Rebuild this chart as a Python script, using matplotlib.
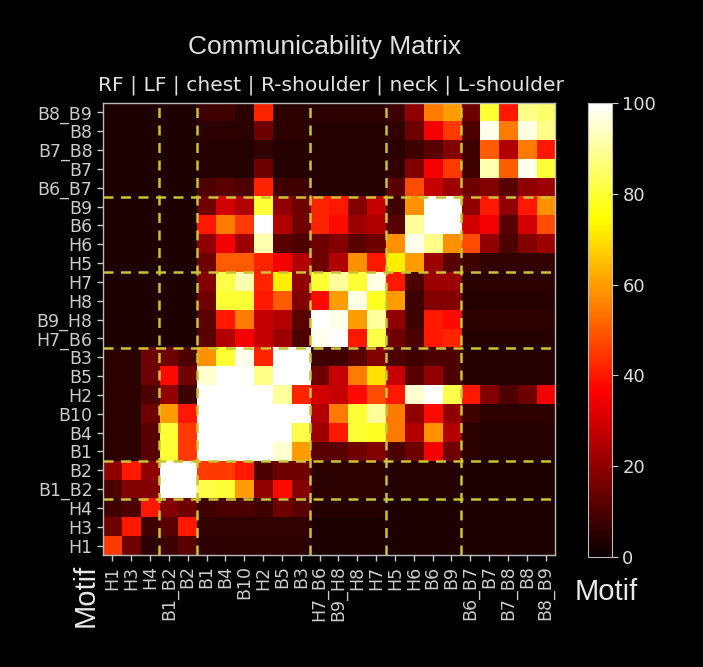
import matplotlib
matplotlib.use("Agg")
import matplotlib.pyplot as plt
import numpy as np

motifs = ["H1", "H3", "H4", "B1_B2", "B2", "B1", "B4", "B10", "H2", "B5", "B3",
          "H7_B6", "B9_H8", "H8", "H7", "H5", "H6", "B6", "B9",
          "B6_B7", "B7", "B7_B8", "B8", "B8_B9"]
group_sizes = [3, 2, 6, 4, 4, 5]
group_names = ["RF", "LF", "chest", "R-shoulder", "neck", "L-shoulder"]

# rows listed from bottom (H1) to top (B8_B9); columns in motifs order
communicability = [
    [45, 15, 5, 8, 12, 5, 5, 5, 5, 5, 5, 3, 3, 3, 3, 3, 3, 3, 3, 3, 3, 3, 3, 3],
    [15, 40, 8, 12, 40, 6, 6, 6, 6, 6, 6, 3, 3, 3, 3, 3, 3, 3, 3, 3, 3, 3, 3, 3],
    [8, 10, 40, 18, 15, 8, 10, 10, 8, 15, 12, 4, 4, 4, 4, 3, 3, 3, 3, 3, 3, 3, 3, 3],
    [10, 18, 18, 100, 100, 82, 80, 60, 20, 38, 18, 5, 5, 5, 5, 4, 4, 4, 4, 3, 3, 3, 3, 3],
    [20, 40, 20, 100, 100, 45, 45, 40, 10, 15, 15, 5, 5, 5, 5, 4, 4, 4, 4, 3, 3, 3, 3, 3],
    [5, 5, 12, 80, 45, 100, 100, 100, 100, 95, 60, 12, 12, 15, 18, 10, 15, 35, 15, 5, 4, 4, 4, 4],
    [5, 5, 12, 80, 45, 100, 100, 100, 100, 100, 82, 22, 40, 80, 78, 55, 25, 58, 25, 5, 4, 4, 4, 4],
    [5, 5, 15, 60, 40, 100, 100, 100, 100, 100, 100, 25, 55, 80, 90, 55, 20, 38, 20, 8, 5, 5, 5, 5],
    [5, 5, 10, 20, 8, 100, 100, 100, 100, 90, 42, 30, 28, 38, 48, 40, 95, 100, 82, 40, 18, 10, 15, 35],
    [5, 5, 15, 38, 15, 95, 100, 100, 88, 100, 100, 15, 28, 55, 70, 28, 12, 20, 10, 4, 4, 4, 4, 4],
    [5, 5, 15, 15, 10, 58, 80, 98, 42, 100, 100, 8, 8, 12, 18, 10, 8, 10, 10, 4, 4, 4, 4, 4],
    [3, 3, 3, 3, 3, 12, 25, 35, 28, 22, 10, 98, 100, 40, 82, 15, 10, 40, 42, 4, 4, 4, 4, 4],
    [3, 3, 3, 3, 3, 12, 40, 55, 28, 25, 12, 100, 98, 60, 90, 20, 8, 40, 38, 5, 5, 5, 5, 5],
    [3, 3, 3, 3, 3, 15, 80, 80, 40, 50, 18, 38, 60, 97, 78, 60, 8, 18, 18, 4, 4, 4, 4, 4],
    [3, 3, 3, 3, 3, 18, 82, 92, 42, 72, 20, 80, 90, 80, 97, 40, 10, 22, 22, 5, 5, 5, 5, 5],
    [3, 3, 3, 3, 3, 15, 50, 50, 42, 35, 25, 15, 25, 58, 40, 72, 60, 22, 12, 8, 6, 6, 6, 6],
    [3, 3, 3, 3, 3, 20, 35, 22, 92, 12, 10, 15, 18, 12, 15, 58, 98, 88, 58, 48, 20, 10, 18, 22],
    [3, 3, 3, 3, 3, 40, 55, 45, 100, 25, 15, 42, 38, 22, 25, 12, 90, 100, 100, 30, 35, 12, 30, 48],
    [3, 3, 3, 3, 3, 15, 30, 25, 80, 20, 15, 42, 40, 18, 28, 8, 58, 100, 100, 20, 40, 20, 40, 58],
    [3, 3, 3, 3, 3, 10, 12, 10, 42, 8, 8, 4, 4, 4, 4, 12, 48, 28, 22, 15, 18, 12, 20, 22],
    [3, 3, 3, 3, 3, 4, 4, 4, 15, 4, 4, 4, 4, 4, 4, 6, 18, 35, 45, 8, 92, 50, 98, 80],
    [3, 3, 3, 3, 3, 4, 4, 4, 6, 4, 4, 4, 4, 4, 4, 5, 8, 12, 18, 8, 50, 25, 55, 40],
    [3, 3, 3, 3, 3, 5, 5, 5, 15, 5, 5, 4, 4, 4, 4, 6, 15, 35, 45, 10, 98, 55, 97, 88],
    [3, 3, 3, 3, 3, 8, 8, 5, 42, 5, 5, 5, 5, 5, 5, 8, 20, 55, 60, 15, 80, 40, 88, 85],
]

data = np.array(communicability, dtype=float)
n = len(motifs)

fig = plt.figure(figsize=(7.03, 6.67), dpi=100, facecolor="black")
ax = fig.add_axes([0.1465, 0.1679, 0.643, 0.6777])
cax = fig.add_axes([0.8364, 0.165, 0.034, 0.6807])

im = ax.imshow(data, cmap="hot", vmin=0, vmax=100, origin="lower",
               interpolation="nearest", aspect="auto")

bounds = np.cumsum(group_sizes)[:-1]
for b in bounds:
    ax.axvline(b - 0.5, color="#c8c432", linestyle=(0, (4, 3)), linewidth=1.8)
    ax.axhline(b - 0.5, color="#c8c432", linestyle=(0, (4, 3)), linewidth=1.8)

ax.set_xticks(range(n))
ax.set_xticklabels(motifs, rotation=90, fontsize=12.5, color="#dddddd")
ax.set_yticks(range(n))
ax.set_yticklabels(motifs, fontsize=12.5, color="#dddddd")
ax.tick_params(colors="#cccccc", length=4, width=1)
for s in ax.spines.values():
    s.set_color("#bbbbbb")
    s.set_linewidth(1)

cb = fig.colorbar(im, cax=cax)
cb.set_ticks([0, 20, 40, 60, 80, 100])
cb.ax.tick_params(colors="#cccccc", labelsize=13, length=4)
for lab in cb.ax.get_yticklabels():
    lab.set_color("#dddddd")
cb.outline.set_edgecolor("#bbbbbb")

fig.text(0.462, 0.929, "Communicability Matrix", color="#e0e0e0", fontsize=19,
         ha="center", va="center", family="Liberation Sans")
fig.text(0.471, 0.8726, " | ".join(group_names), color="#e0e0e0", fontsize=14.6,
         ha="center", va="center")
fig.text(0.122, 0.108, "Motif", color="#e8e8e8", fontsize=21, rotation=90,
         ha="center", va="center", family="Liberation Sans")
fig.text(0.862, 0.112, "Motif", color="#e8e8e8", fontsize=21,
         ha="center", va="center", family="Liberation Sans")

fig.savefig("out.png", dpi=100, facecolor="black")
